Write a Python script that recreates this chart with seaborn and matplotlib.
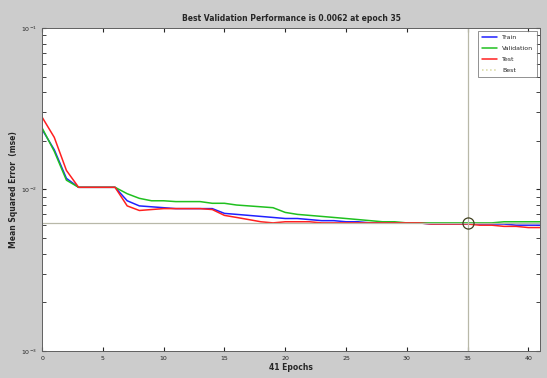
import numpy as np
import pandas as pd
import matplotlib
matplotlib.use("Agg")
import matplotlib.pyplot as plt
import seaborn as sns

# Performance values (epochs 0..41)
epochs = list(range(42))
train = [0.0235, 0.0176, 0.0117, 0.0103, 0.0103, 0.0103, 0.0103, 0.0085, 0.0079, 0.0078,
         0.0077, 0.0076, 0.0076, 0.0076, 0.0076, 0.0071, 0.0070, 0.0069, 0.0068, 0.0067,
         0.0066, 0.0066, 0.0065, 0.0064, 0.0064, 0.0063, 0.0063, 0.0062, 0.0062, 0.0062,
         0.0062, 0.0062, 0.0061, 0.0061, 0.0061, 0.0061, 0.0061, 0.0061, 0.0061, 0.0060,
         0.0060, 0.0060]
validation = [0.0240, 0.0172, 0.0114, 0.0103, 0.0103, 0.0103, 0.0103, 0.0094, 0.0088, 0.0085,
              0.0085, 0.0084, 0.0084, 0.0084, 0.0082, 0.0082, 0.0080, 0.0079, 0.0078, 0.0077,
              0.0072, 0.0070, 0.0069, 0.0068, 0.0067, 0.0066, 0.0065, 0.0064, 0.0063, 0.0063,
              0.0062, 0.0062, 0.0062, 0.0062, 0.0062, 0.0062, 0.0062, 0.0062, 0.0063, 0.0063,
              0.0063, 0.0063]
test = [0.0280, 0.0210, 0.0131, 0.0103, 0.0103, 0.0103, 0.0103, 0.0079, 0.0074, 0.0075,
        0.0076, 0.0076, 0.0076, 0.0076, 0.0075, 0.0069, 0.0067, 0.0065, 0.0063, 0.0062,
        0.0063, 0.0063, 0.0063, 0.0062, 0.0062, 0.0062, 0.0062, 0.0062, 0.0062, 0.0062,
        0.0062, 0.0062, 0.0061, 0.0061, 0.0061, 0.0061, 0.0060, 0.0060, 0.0059, 0.0059,
        0.0058, 0.0058]
best_epoch = 35
best_value = 0.0062

df = pd.DataFrame({"epoch": epochs, "Train": train, "Validation": validation, "Test": test})
long = df.melt(id_vars="epoch", var_name="set", value_name="mse")

sns.set_style("ticks")
plt.rcParams["font.family"] = ["DejaVu Sans"]

fig = plt.figure(figsize=(5.47, 3.78), dpi=100, facecolor="#cccccc")
ax = fig.add_axes([0.077, 0.072, 0.911, 0.854])
ax.set_facecolor("white")

sns.lineplot(data=long, x="epoch", y="mse", hue="set", ax=ax,
             palette={"Train": "#2020ff", "Validation": "#20c020", "Test": "#ff2020"},
             linewidth=1.1, legend=False)

ax.axhline(best_value, color="#b8b8a8", linewidth=0.9)
ax.axvline(best_epoch, color="#b8b8a8", linewidth=0.9)
ax.plot(best_epoch, best_value, "o", markersize=8, markerfacecolor="none",
        markeredgecolor="#404020", markeredgewidth=0.9)

ax.set_yscale("log")
ax.set_ylim(1e-3, 1e-1)
ax.set_xlim(0, 41)
ax.set_xticks([0, 5, 10, 15, 20, 25, 30, 35, 40])
ax.tick_params(labelsize=4.5, length=3, direction="in", which="both", top=True, right=True)
for s in ax.spines.values():
    s.set_color("#606060")
    s.set_linewidth(0.7)

ax.set_xlabel("41 Epochs", fontsize=5.5, fontweight="bold", labelpad=2)
ax.set_ylabel("Mean Squared Error  (mse)", fontsize=5.5, fontweight="bold", labelpad=2)
ax.set_title("Best Validation Performance is 0.0062 at epoch 35", fontsize=5.5,
             fontweight="bold", pad=5)

handles = [plt.Line2D([], [], color="#2020ff", lw=1.1),
           plt.Line2D([], [], color="#20c020", lw=1.1),
           plt.Line2D([], [], color="#ff2020", lw=1.1),
           plt.Line2D([], [], color="#d8d8a0", lw=1.1, ls=":")]
leg = ax.legend(handles, ["Train", "Validation", "Test", "Best"], loc="upper right",
                fontsize=4.5, frameon=True, fancybox=False, handlelength=2.5,
                borderpad=0.6, labelspacing=0.9)
leg.get_frame().set_edgecolor("#606060")
leg.get_frame().set_linewidth(0.6)

fig.savefig("out.png", dpi=100, facecolor=fig.get_facecolor())
